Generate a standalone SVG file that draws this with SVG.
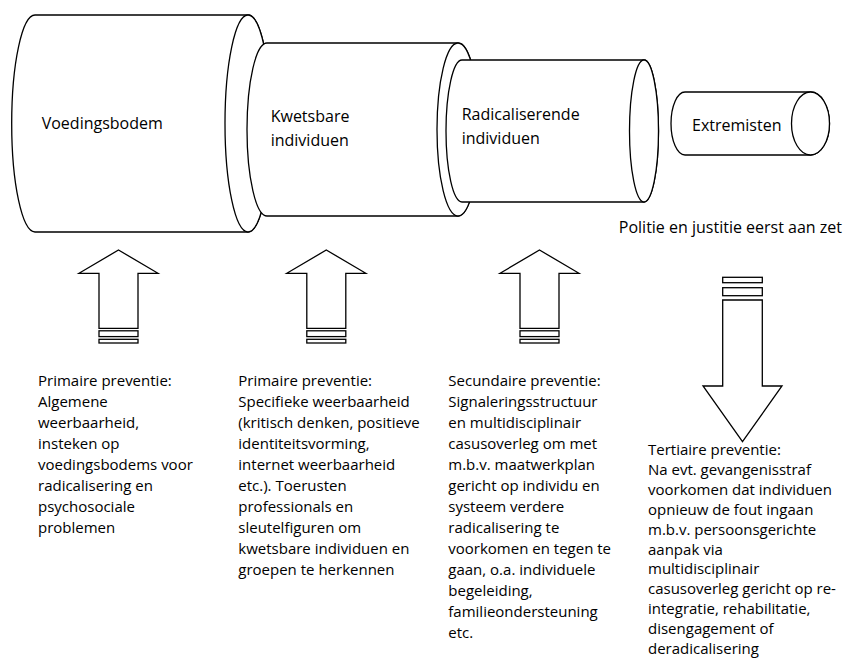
<svg xmlns="http://www.w3.org/2000/svg" width="844" height="661" viewBox="0 0 844 661">
<style>
.cyl{fill:#fff;stroke:#000;stroke-width:1.3}
.arr{fill:#fff;stroke:#000;stroke-width:1.3;stroke-linejoin:miter}
.lbl{font-family:"Open Sans","Noto Sans","Liberation Sans",sans-serif;font-size:16px;fill:#000}
.txt{font-family:"Open Sans","Noto Sans","Liberation Sans",sans-serif;font-size:15px;fill:#000}
</style>
<rect width="844" height="661" fill="#fff"/>
<g id="cyl-voedingsbodem">
<path class="cyl" d="M35,15 L248,15 A23,108.5 0 0 1 248,232 L35,232 A23.3,108.5 0 0 1 35,15 Z"/>
<ellipse class="cyl" cx="248" cy="123.5" rx="23" ry="108.5"/>
<text class="lbl" x="41.7" y="129">Voedingsbodem</text>
</g>
<g id="cyl-kwetsbare">
<path class="cyl" d="M267,43 L458,43 A21,86.5 0 0 1 458,216 L267,216 A20,86.5 0 0 1 267,43 Z"/>
<ellipse class="cyl" cx="458" cy="129.5" rx="21" ry="86.5"/>
<text class="lbl" x="270.7" y="122">Kwetsbare</text>
<text class="lbl" x="270.7" y="146">individuen</text>
</g>
<g id="cyl-radicaliserende">
<path class="cyl" d="M462,60 L644,60 A14.5,71 0 0 1 644,202 L462,202 A16,71 0 0 1 462,60 Z"/>
<ellipse class="cyl" cx="644" cy="131" rx="14.5" ry="71"/>
<text class="lbl" x="461.7" y="120">Radicaliserende</text>
<text class="lbl" x="461.7" y="144">individuen</text>
</g>
<g id="cyl-extremisten">
<path class="cyl" d="M685,92 L810.5,92 A19,31.5 0 0 1 810.5,155 L685,155 A14,31.5 0 0 1 685,92 Z"/>
<ellipse class="cyl" cx="810.5" cy="123.5" rx="19" ry="31.5"/>
<text class="lbl" x="692" y="131">Extremisten</text>
</g>
<g id="note-politie">
<text class="lbl" x="842" y="232.5" text-anchor="end">Politie en justitie eerst aan zet</text>
</g>
<g id="connectors">
<g id="arrow-up-1" transform="translate(118.5,0)">
<path class="arr" d="M0,250 L39.5,273.3 L19.5,273.3 L19.5,328.3 L-19.5,328.3 L-19.5,273.3 L-39.5,273.3 Z"/>
<rect class="arr" x="-19.5" y="330.8" width="39" height="5.8"/>
<rect class="arr" x="-19.5" y="339.3" width="39" height="3.7"/>
</g>
<g id="arrow-up-2" transform="translate(326.3,0)">
<path class="arr" d="M0,250 L39.5,273.3 L19.5,273.3 L19.5,328.3 L-19.5,328.3 L-19.5,273.3 L-39.5,273.3 Z"/>
<rect class="arr" x="-19.5" y="330.8" width="39" height="5.8"/>
<rect class="arr" x="-19.5" y="339.3" width="39" height="3.7"/>
</g>
<g id="arrow-up-3" transform="translate(539.5,0)">
<path class="arr" d="M0,250 L39.5,273.3 L19.5,273.3 L19.5,328.3 L-19.5,328.3 L-19.5,273.3 L-39.5,273.3 Z"/>
<rect class="arr" x="-19.5" y="330.8" width="39" height="5.8"/>
<rect class="arr" x="-19.5" y="339.3" width="39" height="3.7"/>
</g>
<g id="arrow-down-4" transform="translate(742.5,0)">
<path class="arr" d="M0,441.7 L39.5,386 L19.8,386 L19.8,300 L-19.8,300 L-19.8,386 L-39.5,386 Z"/>
<rect class="arr" x="-19.8" y="287.7" width="39.6" height="8"/>
<rect class="arr" x="-19.8" y="277.3" width="39.6" height="5.4"/>
</g>
</g>
<g id="text-primair-algemeen">
<text class="txt" x="38" y="386">
<tspan x="38" dy="0">Primaire preventie:</tspan>
<tspan x="38" dy="21">Algemene</tspan>
<tspan x="38" dy="21">weerbaarheid,</tspan>
<tspan x="38" dy="21">insteken op</tspan>
<tspan x="38" dy="21">voedingsbodems voor</tspan>
<tspan x="38" dy="21">radicalisering en</tspan>
<tspan x="38" dy="21">psychosociale</tspan>
<tspan x="38" dy="21">problemen</tspan>
</text>
</g>
<g id="text-primair-specifiek">
<text class="txt" x="238.3" y="386">
<tspan x="238.3" dy="0">Primaire preventie:</tspan>
<tspan x="238.3" dy="21">Specifieke weerbaarheid</tspan>
<tspan x="238.3" dy="21">(kritisch denken, positieve</tspan>
<tspan x="238.3" dy="21">identiteitsvorming,</tspan>
<tspan x="238.3" dy="21">internet weerbaarheid</tspan>
<tspan x="238.3" dy="21">etc.). Toerusten</tspan>
<tspan x="238.3" dy="21">professionals en</tspan>
<tspan x="238.3" dy="21">sleutelfiguren om</tspan>
<tspan x="238.3" dy="21">kwetsbare individuen en</tspan>
<tspan x="238.3" dy="21">groepen te herkennen</tspan>
</text>
</g>
<g id="text-secundair">
<text class="txt" x="448.3" y="386">
<tspan x="448.3" dy="0">Secundaire preventie:</tspan>
<tspan x="448.3" dy="21">Signaleringsstructuur</tspan>
<tspan x="448.3" dy="21">en multidisciplinair</tspan>
<tspan x="448.3" dy="21">casusoverleg om met</tspan>
<tspan x="448.3" dy="21">m.b.v. maatwerkplan</tspan>
<tspan x="448.3" dy="21">gericht op individu en</tspan>
<tspan x="448.3" dy="21">systeem verdere</tspan>
<tspan x="448.3" dy="21">radicalisering te</tspan>
<tspan x="448.3" dy="21">voorkomen en tegen te</tspan>
<tspan x="448.3" dy="21">gaan, o.a. individuele</tspan>
<tspan x="448.3" dy="21">begeleiding,</tspan>
<tspan x="448.3" dy="21">familieondersteuning</tspan>
<tspan x="448.3" dy="21">etc.</tspan>
</text>
</g>
<g id="text-tertiair">
<text class="txt" x="648" y="455">
<tspan x="648" dy="0">Tertiaire preventie:</tspan>
<tspan x="648" dy="19.9">Na evt. gevangenisstraf</tspan>
<tspan x="648" dy="19.9">voorkomen dat individuen</tspan>
<tspan x="648" dy="19.9">opnieuw de fout ingaan</tspan>
<tspan x="648" dy="19.9">m.b.v. persoonsgerichte</tspan>
<tspan x="648" dy="19.9">aanpak via</tspan>
<tspan x="648" dy="19.9">multidisciplinair</tspan>
<tspan x="648" dy="19.9">casusoverleg gericht op re-</tspan>
<tspan x="648" dy="19.9">integratie, rehabilitatie,</tspan>
<tspan x="648" dy="19.9">disengagement of</tspan>
<tspan x="648" dy="19.9">deradicalisering</tspan>
</text>
</g>
</svg>
